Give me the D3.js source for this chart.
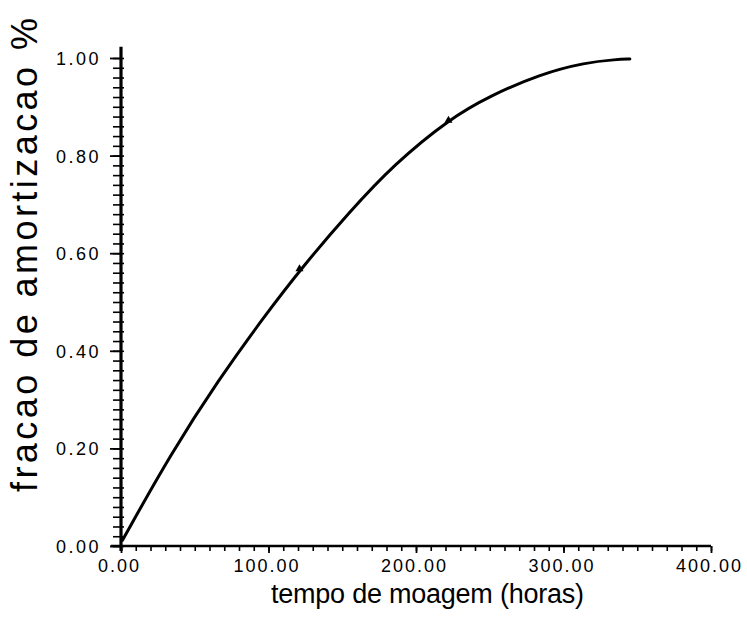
<!DOCTYPE html>
<html>
<head>
<meta charset="utf-8">
<script src="https://cdn.jsdelivr.net/npm/d3@7"></script>
<style>
  body { margin: 0; background: #fff; }
  svg text { font-family: "Liberation Sans", Arial, sans-serif; fill: #000; }
</style>
</head>
<body>
<div id="chart"></div>
<script>
// values (hours, fraction)
const hours = [1, 34, 66, 97, 123, 155, 185, 223, 250, 284, 315, 336, 345];
const fraction = [0.012, 0.190, 0.340, 0.470, 0.572, 0.685, 0.782, 0.876, 0.922, 0.967, 0.991, 0.997, 0.998];
// small marks sitting on the curve
const markHours = [121, 222];
const markFraction = [0.568, 0.872];

const xMajor = [0, 100, 200, 300, 400];
const xLabels = ["0.00", "100.00", "200.00", "300.00", "400.00"];
const yMajor = [0, 0.2, 0.4, 0.6, 0.8, 1.0];
const yLabels = ["0.00", "0.20", "0.40", "0.60", "0.80", "1.00"];
const xMinor = d3.range(0, 401, 10);
const yMinor = d3.range(0, 51).map(i => i / 50);

const width = 747, height = 617;
const margin = {top: 58, right: 36, bottom: 71, left: 121};

const svg = d3.select("#chart").append("svg")
  .attr("width", width).attr("height", height);

const x = d3.scaleLinear().domain([0, 400]).range([margin.left, width - margin.right]);
const y = d3.scaleLinear().domain([0, 1]).range([height - margin.bottom, margin.top]);

/* y axis */
const yMinorAxis = svg.append("g")
  .attr("transform", "translate(" + x(0) + ",0)")
  .call(d3.axisLeft(y).tickValues(yMinor).tickSize(8).tickFormat(""));
yMinorAxis.select(".domain").remove();
yMinorAxis.selectAll(".tick line").attr("x2", -8).attr("x1", 3).attr("stroke-width", 1.6);

const yMajorAxis = svg.append("g")
  .attr("transform", "translate(" + x(0) + ",0)")
  .call(d3.axisLeft(y).tickValues(yMajor).tickSize(11).tickPadding(9)
    .tickFormat((d, i) => yLabels[i]));
yMajorAxis.select(".domain").remove();
yMajorAxis.selectAll(".tick line").attr("stroke-width", 1.8);
yMajorAxis.selectAll(".tick text")
  .style("font-size", "18px").attr("letter-spacing", "2.5px").attr("dy", "0.36em");

svg.append("line")
  .attr("x1", x(0)).attr("x2", x(0))
  .attr("y1", y(-0.01)).attr("y2", y(1.023))
  .attr("stroke", "#000").attr("stroke-width", 3.2);

/* x axis */
const xMinorAxis = svg.append("g")
  .attr("transform", "translate(0," + y(0) + ")")
  .call(d3.axisBottom(x).tickValues(xMinor).tickSize(5).tickFormat(""));
xMinorAxis.select(".domain").remove();
xMinorAxis.selectAll(".tick line").attr("stroke-width", 1.6);

const xMajorAxis = svg.append("g")
  .attr("transform", "translate(0," + y(0) + ")")
  .call(d3.axisBottom(x).tickValues(xMajor).tickSize(7).tickPadding(6)
    .tickFormat((d, i) => xLabels[i]));
xMajorAxis.select(".domain").remove();
xMajorAxis.selectAll(".tick line").attr("stroke-width", 1.8);
xMajorAxis.selectAll(".tick text")
  .style("font-size", "18px").attr("letter-spacing", "2px").attr("dx", "-2");

svg.append("line")
  .attr("x1", x(-7)).attr("x2", x(400))
  .attr("y1", y(0)).attr("y2", y(0))
  .attr("stroke", "#000").attr("stroke-width", 2.4);

/* curve */
const pts = hours.map((h, i) => [h, fraction[i]]);
svg.append("path")
  .datum(pts)
  .attr("fill", "none")
  .attr("stroke", "#000")
  .attr("stroke-width", 3)
  .attr("stroke-linecap", "round")
  .attr("d", d3.line().x(d => x(d[0])).y(d => y(d[1])).curve(d3.curveBasis));

svg.selectAll(".mark")
  .data(markHours.map((h, i) => [h, markFraction[i]]))
  .enter().append("path")
  .attr("class", "mark")
  .attr("transform", d => "translate(" + x(d[0]) + "," + y(d[1]) + ")")
  .attr("d", d3.symbol().type(d3.symbolTriangle).size(28))
  .attr("fill", "#000");

/* axis titles */
svg.append("text")
  .attr("x", 271).attr("y", 603)
  .attr("textLength", 313).attr("lengthAdjust", "spacing")
  .style("font-size", "27px")
  .text("tempo de moagem (horas)");

svg.append("text")
  .attr("transform", "translate(37,492) rotate(-90)")
  .attr("textLength", 474).attr("lengthAdjust", "spacing")
  .style("font-size", "36px")
  .text("fracao de amortizacao %");
</script>
</body>
</html>
